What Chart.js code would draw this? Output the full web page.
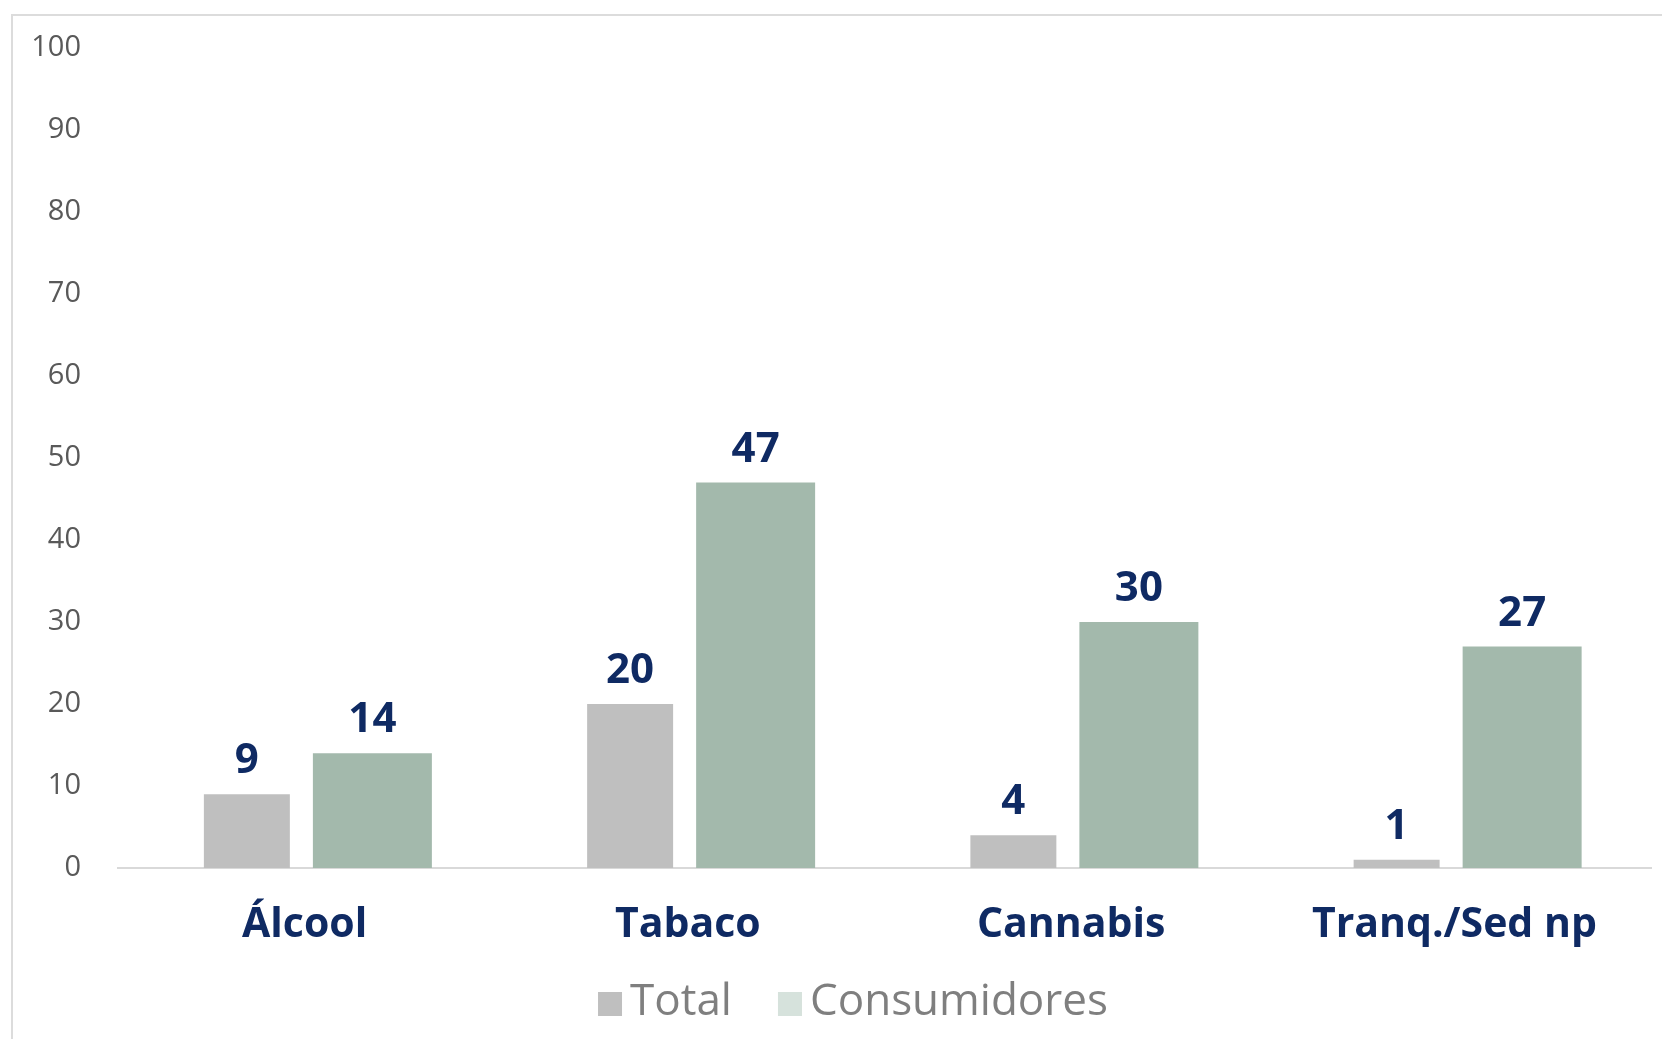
<!DOCTYPE html>
<html>
<head>
<meta charset="utf-8">
<script src="https://cdn.jsdelivr.net/npm/chart.js@4.4.0/dist/chart.umd.min.js"></script>
<style>
  html, body { margin:0; padding:0; background:#fff; }
  #wrap { width:1662px; height:1039px; position:relative; }
</style>
</head>
<body>
<div id="wrap"><canvas id="drugChart" width="1662" height="1039"></canvas></div>
<script>
// ===== Data =====
const categories = ["Álcool", "Tabaco", "Cannabis", "Tranq./Sed np"];
const totalValues = [9, 20, 4, 1];
const consumidoresValues = [14, 47, 30, 27];
const yTicks = [0, 10, 20, 30, 40, 50, 60, 70, 80, 90, 100];

// ===== Colours =====
const navy = "#0f2a63";
const grayBar = "#bfbfbf";
const greenBar = "#a3b9ac";
const legendSwatches = ["#bfbfbf", "#d6e2dc"];
const fontFamily = "'Open Sans', Lato, sans-serif";

// ===== Frame =====
const framePlugin = {
  id: "frame",
  beforeDraw(chart){
    const ctx = chart.ctx;
    ctx.save();
    ctx.strokeStyle = "#dcdcdc";
    ctx.lineWidth = 2;
    ctx.strokeRect(12, 15, 1700, 1100);
    ctx.restore();
  }
};

// ===== Value labels above bars =====
const valueLabels = {
  id: "valueLabels",
  afterDatasetsDraw(chart){
    const ctx = chart.ctx;
    ctx.save();
    ctx.fillStyle = navy;
    ctx.font = "bold 42px " + fontFamily;
    ctx.textAlign = "center";
    ctx.textBaseline = "alphabetic";
    chart.data.datasets.forEach((ds, i) => {
      chart.getDatasetMeta(i).data.forEach((bar, j) => {
        ctx.fillText(ds.data[j], bar.x, bar.y - 21);
      });
    });
    ctx.restore();
  }
};

// ===== Bottom legend (tight box/text gap like the original) =====
const bottomLegend = {
  id: "bottomLegend",
  afterDraw(chart){
    const ctx = chart.ctx;
    const box = 24, gap = 8, spacing = 46, baseY = 1015;
    ctx.save();
    ctx.font = "44px " + fontFamily;
    const labels = chart.data.datasets.map(ds => ds.label);
    const widths = labels.map(t => ctx.measureText(t).width);
    let total = widths.reduce((a, w) => a + box + gap + w, 0) + spacing * (labels.length - 1);
    let x = 853 - total / 2;
    ctx.textBaseline = "alphabetic";
    labels.forEach((t, i) => {
      ctx.fillStyle = legendSwatches[i];
      ctx.fillRect(x, baseY - box + 1, box, box);
      x += box + gap;
      ctx.fillStyle = "#7f7f7f";
      ctx.fillText(t, x, baseY);
      x += widths[i] + spacing;
    });
    ctx.restore();
  }
};

new Chart(document.getElementById("drugChart"), {
  type: "bar",
  data: {
    labels: categories,
    datasets: [
      { label: "Total", data: totalValues, backgroundColor: grayBar, barPercentage: 0.685, categoryPercentage: 0.655 },
      { label: "Consumidores", data: consumidoresValues, backgroundColor: greenBar, barPercentage: 0.948, categoryPercentage: 0.655 }
    ]
  },
  options: {
    responsive: false,
    animation: false,
    layout: { padding: { top: 48, right: 11, left: 0, bottom: 81 } },
    plugins: {
      tooltip: { enabled: false },
      legend: { display: false }
    },
    scales: {
      x: {
        afterFit(scale){ scale.height = 90; },
        grid: { display: false },
        border: { color: "#d9d9d9", width: 2 },
        ticks: { color: navy, padding: 25, labelOffset: -5, autoSkip: false, maxRotation: 0, minRotation: 0,
                 font: { family: fontFamily, weight: "bold", size: 41 } }
      },
      y: {
        min: 0, max: 100,
        afterFit(scale){ scale.width = 118; scale.paddingTop = 0; scale.paddingBottom = 0; },
        afterBuildTicks(scale){ scale.ticks = yTicks.map(v => ({ value: v })); },
        grid: { display: false, drawTicks: false },
        border: { display: false },
        ticks: { color: "#595959", padding: 37, font: { family: fontFamily, size: 29 } }
      }
    }
  },
  plugins: [framePlugin, valueLabels, bottomLegend]
});
</script>
</body>
</html>
